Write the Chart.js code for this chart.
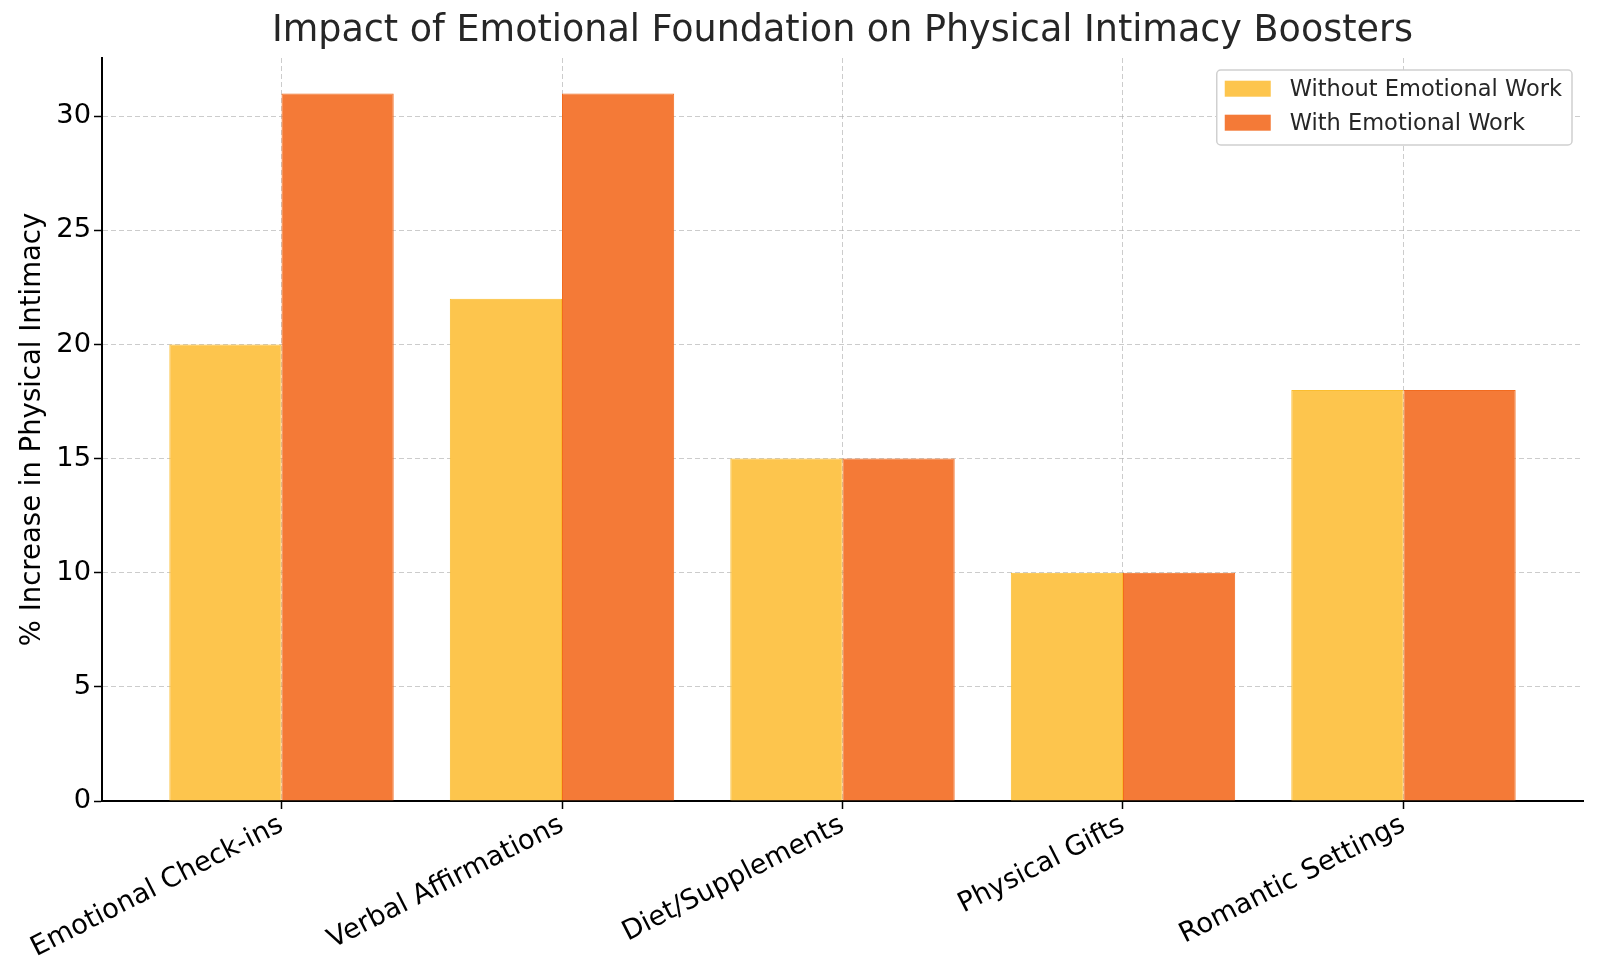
<!DOCTYPE html>
<html>
<head>
<meta charset="utf-8">
<script src="https://cdn.jsdelivr.net/npm/chart.js@4/dist/chart.umd.min.js"></script>
<style>
  html, body { margin: 0; padding: 0; background: #fff; }
  #wrap { width: 1600px; height: 969px; }
</style>
</head>
<body>
<div id="wrap"><canvas id="chart" width="1600" height="969"></canvas></div>
<script>
const categories = ['Emotional Check-ins', 'Verbal Affirmations', 'Diet/Supplements', 'Physical Gifts', 'Romantic Settings'];
const withoutWork = [20, 22, 15, 10, 18];
const withWork = [31, 31, 15, 10, 18];
const seriesNames = ['Without Emotional Work', 'With Emotional Work'];
const yTicks = [0, 5, 10, 15, 20, 25, 30];

Chart.defaults.font.family = '"DejaVu Sans"';
Chart.defaults.color = '#000';

// matplotlib style legend box in the upper right of the plot
const legendBox = {
    id: 'legendBox',
    afterDraw(chart) {
        const { ctx, chartArea } = chart;
        const items = chart.data.datasets;
        ctx.save();
        ctx.font = '22.5px "DejaVu Sans"';
        const textW = Math.max(...items.map(d => ctx.measureText(d.label).width));
        const pad = 8, sw = 46, sh = 16, gap = 19, rowH = 34;
        const w = pad + sw + gap + textW + 10;
        const h = 75;
        const right = chartArea.right - 11;
        const top = chartArea.top + 12;
        const left = right - w;

        ctx.beginPath();
        ctx.roundRect(left, top, w, h, 4);
        ctx.fillStyle = '#fff';
        ctx.fill();
        ctx.lineWidth = 1.5;
        ctx.strokeStyle = '#d0d0d0';
        ctx.stroke();

        items.forEach((d, i) => {
            const cy = top + 18.7 + i * rowH;
            ctx.fillStyle = d.backgroundColor;
            ctx.fillRect(left + pad, cy - sh / 2, sw, sh);
            ctx.fillStyle = '#262626';
            ctx.textBaseline = 'middle';
            ctx.textAlign = 'left';
            ctx.fillText(d.label, left + pad + sw + gap, cy + 1);
        });
        ctx.restore();
    }
};

const gridOpts = {
    display: true,
    offset: false,
    color: 'rgba(176,176,176,0.65)',
    lineWidth: 1,
    drawTicks: true,
    tickLength: 8,
    tickColor: '#000',
    tickBorderDash: [],
    tickWidth: 1.5
};

const ctx = document.getElementById('chart').getContext('2d');
new Chart(ctx, {
    type: 'bar',
    data: {
        datasets: [{
            label: seriesNames[0],
            data: withoutWork.map((v, i) => ({ x: i, y: v })),
            backgroundColor: '#FDC54D',
            borderColor: '#FBBD2E',
            borderWidth: 1,
            barPercentage: 1.0,
            categoryPercentage: 0.8
        }, {
            label: seriesNames[1],
            data: withWork.map((v, i) => ({ x: i, y: v })),
            backgroundColor: '#F47A37',
            borderColor: '#F26B1E',
            borderWidth: 1,
            barPercentage: 1.0,
            categoryPercentage: 0.8
        }]
    },
    options: {
        responsive: false,
        animation: false,
        layout: {
            padding: { left: 0, right: 17, top: 0, bottom: 0 }
        },
        plugins: {
            legend: { display: false },
            tooltip: { enabled: false },
            title: {
                display: true,
                fullSize: false,
                text: 'Impact of Emotional Foundation on Physical Intimacy Boosters',
                font: { size: 36.5, weight: 'normal' },
                color: '#262626',
                padding: { top: 10, bottom: 4.2 }
            }
        },
        scales: {
            x: {
                type: 'linear',
                offset: false,
                min: -0.64,
                max: 4.64,
                z: 1,
                afterBuildTicks: scale => {
                    scale.ticks = categories.map((c, i) => ({ value: i }));
                },
                afterFit: scale => { scale.height = 168; },
                ticks: {
                    callback: v => categories[v],
                    minRotation: 27,
                    maxRotation: 27,
                    autoSkip: false,
                    font: { size: 27.3 },
                    color: '#000',
                    padding: 0
                },
                grid: gridOpts,
                border: { display: true, color: '#000', width: 2, dash: [5, 3] }
            },
            y: {
                min: 0,
                max: 32.55,
                z: 1,
                afterBuildTicks: scale => {
                    scale.ticks = yTicks.map(v => ({ value: v }));
                },
                afterFit: scale => { scale.width = 102; },
                ticks: {
                    font: { size: 27.3 },
                    color: '#000',
                    padding: 3
                },
                grid: gridOpts,
                border: { display: true, color: '#000', width: 2, dash: [5, 3] },
                title: {
                    display: true,
                    text: '% Increase in Physical Intimacy',
                    font: { size: 27.5 },
                    color: '#000',
                    padding: { top: 16, bottom: 0 }
                }
            }
        }
    },
    plugins: [legendBox]
});
</script>
</body>
</html>
